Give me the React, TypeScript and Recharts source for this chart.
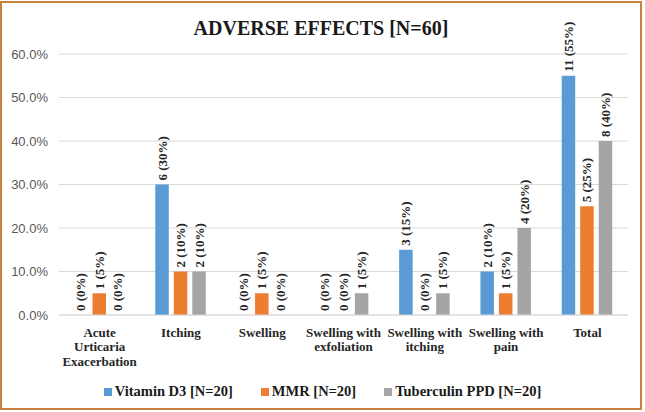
import { Bar, BarChart, CartesianGrid, LabelList, Legend, XAxis, YAxis } from "recharts";

const categories = [
  "Acute\nUrticaria\nExacerbation",
  "Itching",
  "Swelling",
  "Swelling with\nexfoliation",
  "Swelling with\nitching",
  "Swelling with\npain",
  "Total",
];

const vitaminCounts = [0, 6, 0, 0, 3, 2, 11];
const vitaminPct = [0, 30, 0, 0, 15, 10, 55];
const mmrCounts = [1, 2, 1, 0, 0, 1, 5];
const mmrPct = [5, 10, 5, 0, 0, 5, 25];
const ppdCounts = [0, 2, 0, 1, 1, 4, 8];
const ppdPct = [0, 10, 0, 5, 5, 20, 40];

const yTicks = [0, 10, 20, 30, 40, 50, 60];

const series = [
  { key: "vit", name: "Vitamin D3 [N=20]", color: "#5B9BD5", counts: vitaminCounts, pct: vitaminPct },
  { key: "mmr", name: "MMR [N=20]", color: "#ED7D31", counts: mmrCounts, pct: mmrPct },
  { key: "ppd", name: "Tuberculin PPD [N=20]", color: "#A5A5A5", counts: ppdCounts, pct: ppdPct },
];

// one row per category, plus the label text each bar carries
const data = categories.map((c, i) => {
  const row: any = { name: c };
  series.forEach((s) => {
    row[s.key] = s.pct[i];
    row[s.key + "Label"] = `${s.counts[i]} (${s.pct[i]}%)`;
  });
  return row;
});

const serif = "'Liberation Serif', 'Times New Roman', serif";

const CategoryTick = (props: any) => {
  const { x, y, payload } = props;
  const lines = String(payload.value).split("\n");
  return (
    <text x={x} y={y + 13.5} textAnchor="middle" fontFamily={serif} fontWeight="bold" fontSize={13} fill="#262626">
      {lines.map((l, i) => (
        <tspan key={i} x={x} dy={i === 0 ? 0 : 14.5}>
          {l}
        </tspan>
      ))}
    </text>
  );
};

const BarLabel = (props: any) => {
  const { x, y, width, value } = props;
  const cx = Number(x) + Number(width) / 2;
  const top = Number(y) - 4;
  return (
    <text
      x={cx}
      y={top}
      transform={`rotate(-90, ${cx}, ${top})`}
      textAnchor="start"
      dominantBaseline="central"
      fontFamily={serif}
      fontWeight="bold"
      fontSize={13}
      fill="#262626"
    >
      {value}
    </text>
  );
};

const LegendContent = () => (
  <div style={{ display: "flex", justifyContent: "center", gap: 28, fontFamily: serif, fontWeight: "bold", fontSize: 14.5, color: "#1a1a1a" }}>
    {series.map((s) => (
      <div key={s.key} style={{ display: "flex", alignItems: "center" }}>
        <span style={{ display: "inline-block", width: 8, height: 8, background: s.color, marginRight: 3 }} />
        <span>{s.name}</span>
      </div>
    ))}
  </div>
);

export default function App() {
  return (
    <div style={{ position: "absolute", left: 0, top: 0, width: 645, height: 412, background: "#fff" }}>
      <div
        style={{
          position: "absolute",
          left: 0,
          top: 1,
          width: 642,
          height: 409,
          boxSizing: "border-box",
          border: "2px solid #c8823c",
        }}
      />
      <div
        style={{
          position: "absolute",
          left: 0,
          top: 17,
          width: 642,
          textAlign: "center",
          fontFamily: serif,
          fontWeight: "bold",
          fontSize: 20,
          color: "#1a1a1a",
        }}
      >
        ADVERSE EFFECTS [N=60]
      </div>
      <BarChart width={645} height={412} data={data} margin={{ top: 54, right: 17, bottom: 37, left: 0 }} barSize={13.5} barGap={5}>
        <CartesianGrid vertical={false} stroke="#d9d9d9" />
        <XAxis dataKey="name" height={60} interval={0} tick={<CategoryTick />} tickLine={false} axisLine={{ stroke: "#d9d9d9" }} />
        <YAxis
          width={59}
          domain={[0, 60]}
          ticks={yTicks}
          tickFormatter={(v: number) => `${v.toFixed(1)}%`}
          tick={{ fill: "#595959", fontSize: 13, fontFamily: "'Liberation Sans', Arial, sans-serif" }}
          tickLine={false}
          axisLine={false}
          tickMargin={5}
        />
        <Legend verticalAlign="middle" align="center" wrapperStyle={{ top: 383, left: 0, width: 645 }} content={<LegendContent />} />
        {series.map((s) => (
          <Bar key={s.key} dataKey={s.key} name={s.name} fill={s.color} minPointSize={0.01} isAnimationActive={false}>
            <LabelList dataKey={s.key + "Label"} content={<BarLabel />} />
          </Bar>
        ))}
      </BarChart>
    </div>
  );
}
